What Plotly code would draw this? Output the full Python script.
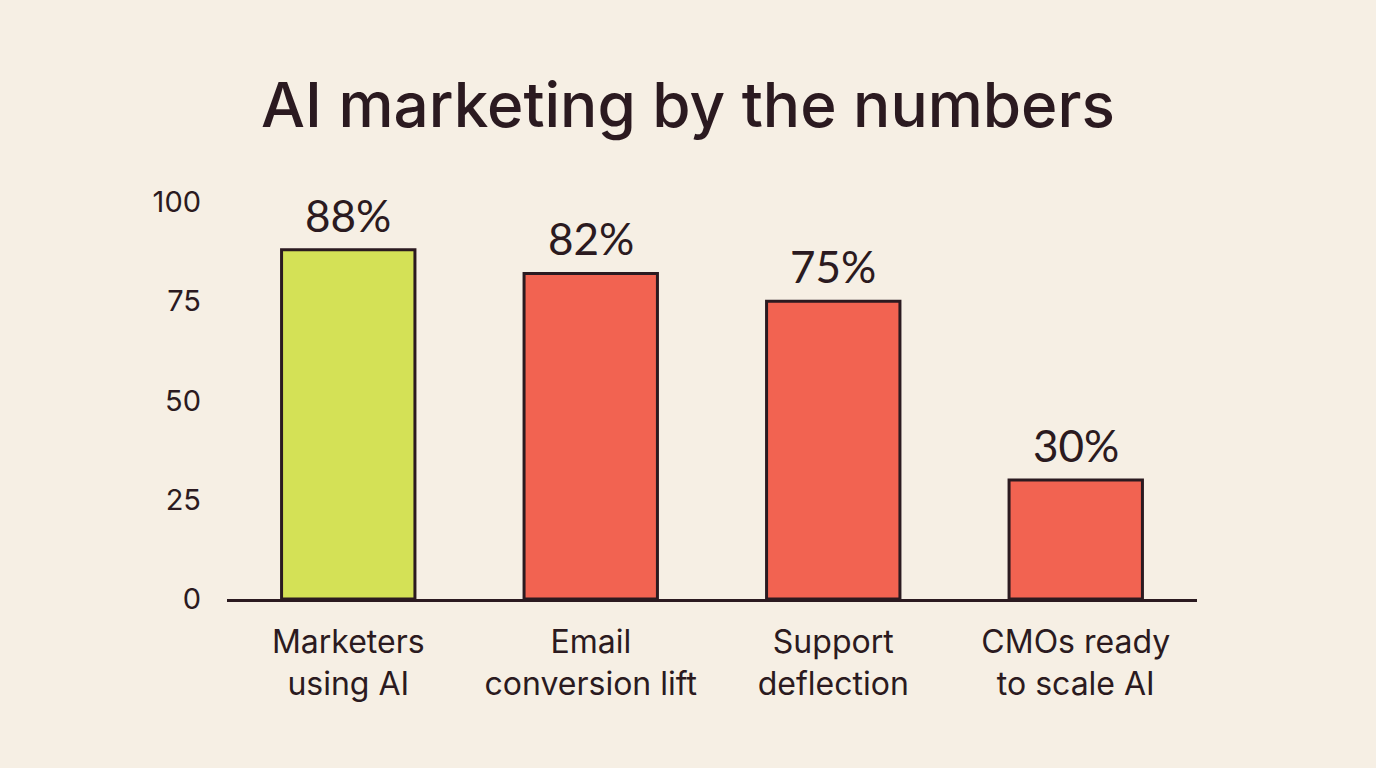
import plotly.graph_objects as go

categories = ["Marketers<br>using AI", "Email<br>conversion lift", "Support<br>deflection", "CMOs ready<br>to scale AI"]
values = [88, 82, 75, 30]
bar_colors = ["#d4e156", "#f26351", "#f26351", "#f26351"]
y_ticks = [0, 25, 50, 75, 100]

ink = "#2b1a20"
bg = "#f6efe4"

fig = go.Figure()
fig.add_trace(go.Bar(
    x=categories, y=values,
    marker=dict(color=bar_colors, line=dict(color=ink, width=3)),
    width=0.55,
    hoverinfo="skip",
))

for c, v in zip(categories, values):
    fig.add_annotation(x=c, y=v, text=f"{v}%", showarrow=False,
                       yanchor="middle", yshift=35,
                       font=dict(family="Lato, Inter, sans-serif", size=44, color=ink))

fig.update_layout(
    width=1376, height=768,
    paper_bgcolor=bg, plot_bgcolor=bg,
    margin=dict(l=227, r=179, t=202, b=169),
    title=dict(text="AI marketing by the numbers", x=0.5, xanchor="center",
               y=1 - 105 / 768, yanchor="middle",
               font=dict(family="Inter, sans-serif", size=62, color=ink, weight=500)),
    showlegend=False,
    bargap=0.45,
)
fig.update_xaxes(
    showline=True, linecolor=ink, linewidth=3, ticks="", showgrid=False,
    tickfont=dict(family="Inter, sans-serif", size=32, color=ink),
    ticklabelstandoff=13,
)
fig.update_yaxes(
    range=[0, 100], tickvals=y_ticks, showgrid=False, zeroline=False,
    showline=False, ticks="",
    tickfont=dict(family="Inter, sans-serif", size=29, color=ink),
    ticklabelstandoff=25,
)

fig.write_html("out.html")
